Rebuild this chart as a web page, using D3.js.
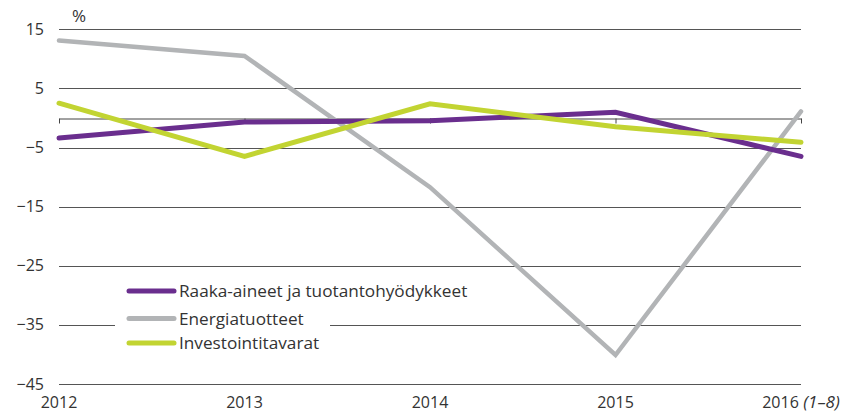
<!DOCTYPE html>
<html>
<head>
<meta charset="utf-8">
<script src="https://cdn.jsdelivr.net/npm/d3@7"></script>
<style>
  body { margin: 0; background: #fff; }
  text { font-family: "Open Sans", sans-serif; fill: #333; }
</style>
</head>
<body>
<div id="chart"></div>
<script>
// data
var years = [2012, 2013, 2014, 2015, 2016]
var yearLabels = ['2012', '2013', '2014', '2015', '2016']
var raaka = [-3.4, -0.7, -0.45, 0.95, -6.5]
var energia = [13.1, 10.5, -11.7, -40.1, 1.1]
var investointi = [2.5, -6.5, 2.4, -1.5, -4.1]
var yTicks = [15, 5, -5, -15, -25, -35, -45]

var seriesNames = ['Raaka-aineet ja tuotantohyödykkeet', 'Energiatuotteet', 'Investointitavarat']
var seriesColors = ['#6a2e8e', '#b2b4b6', '#c2d432']

var width = 860,
  height = 413

var x = d3.scaleLinear().domain([2012, 2016]).range([59, 801])
var y = d3.scaleLinear().domain([-45, 15]).range([384, 29.3])

var svg = d3
  .select('#chart')
  .append('svg')
  .attr('width', width)
  .attr('height', height)

// gridlines
svg
  .selectAll('line.grid')
  .data(yTicks)
  .enter()
  .append('line')
  .attr('class', 'grid')
  .attr('x1', x(2012))
  .attr('x2', x(2016))
  .attr('y1', d => Math.round(y(d)) + 0.5)
  .attr('y2', d => Math.round(y(d)) + 0.5)
  .attr('stroke', '#555')
  .attr('stroke-width', 1)

// y labels
svg
  .selectAll('text.ylab')
  .data(yTicks)
  .enter()
  .append('text')
  .attr('class', 'ylab')
  .attr('x', 44)
  .attr('y', d => y(d))
  .attr('dy', '0.35em')
  .attr('text-anchor', 'end')
  .style('font-size', '16px')
  .text(d => (d < 0 ? '\u2212' + Math.abs(d) : d))

svg
  .append('text')
  .attr('x', 72)
  .attr('y', 22)
  .style('font-size', '17px')
  .text('%')

// zero axis with ticks pointing down
var zeroY = Math.round(y(0)) + 0.5
var xAxis = d3
  .axisBottom(x)
  .tickValues(years)
  .tickSize(5)
  .tickFormat('')
  .tickSizeOuter(0)
svg
  .append('g')
  .attr('transform', 'translate(0,' + zeroY + ')')
  .call(xAxis)
  .call(g => g.selectAll('line, path').attr('stroke', '#444'))

// x labels
var xl = svg
  .selectAll('text.xlab')
  .data(years)
  .enter()
  .append('text')
  .attr('class', 'xlab')
  .attr('x', d => x(d))
  .attr('y', 408)
  .attr('text-anchor', 'middle')
  .style('font-size', '16px')
xl.append('tspan').text((d, i) => yearLabels[i])
xl.filter(d => d === 2016)
  .append('tspan')
  .style('font-style', 'italic')
  .style('font-size', '17px')
  .text(' (1\u20138)')

// legend background, hides the gridline behind it
svg
  .append('rect')
  .attr('x', 115)
  .attr('y', 278)
  .attr('width', 215)
  .attr('height', 75)
  .attr('fill', '#fff')

// lines
var line = d3
  .line()
  .x((d, i) => x(years[i]))
  .y(d => y(d))

var allSeries = [raaka, energia, investointi]
var drawOrder = [1, 0, 2]
drawOrder.forEach(function(k) {
  svg
    .append('path')
    .datum(allSeries[k])
    .attr('d', line)
    .attr('fill', 'none')
    .attr('stroke', seriesColors[k])
    .attr('stroke-width', k === 1 ? 4.5 : 5)
    .attr('stroke-linejoin', 'miter')
    .attr('stroke-linecap', 'round')
})

// legend
var legY = [291, 318.5, 343]
var leg = svg
  .selectAll('g.leg')
  .data(seriesNames)
  .enter()
  .append('g')
  .attr('class', 'leg')
  .attr('transform', (d, i) => 'translate(0,' + legY[i] + ')')
leg
  .append('line')
  .attr('x1', 129)
  .attr('x2', 174)
  .attr('stroke', (d, i) => seriesColors[i])
  .attr('stroke-width', 5)
  .attr('stroke-linecap', 'round')
leg
  .append('text')
  .attr('x', 179)
  .attr('dy', '0.35em')
  .style('font-size', '17.2px')
  .text(d => d)
</script>
</body>
</html>
